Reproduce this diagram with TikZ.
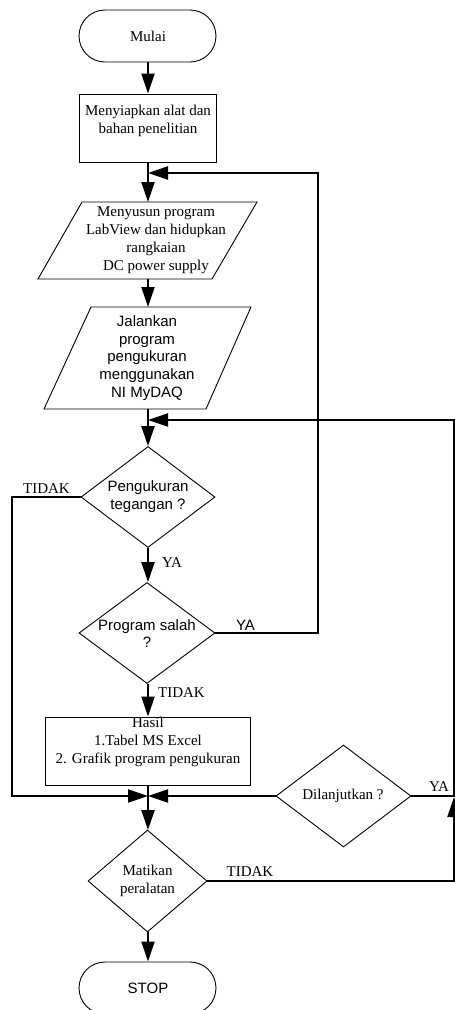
\documentclass[tikz,border=0pt]{standalone}
\usepackage{fontspec}
\setmainfont{Liberation Serif}
\newfontfamily\arialf{Liberation Sans}
\usetikzlibrary{arrows.meta,shapes.geometric,shapes.misc}
\tikzset{
  shapeline/.style={draw=black, line width=0.9pt},
  term/.style={shapeline, rounded rectangle, minimum width=137pt, minimum height=52pt, inner sep=0pt},
  procbox/.style={shapeline, rectangle, inner sep=0pt},
  dia/.style={shapeline, diamond, inner sep=0pt},
  txt/.style={inner sep=0pt, align=center, font=\fontsize{15pt}{18pt}\selectfont},
  stxt/.style={inner sep=0pt, align=center, font=\arialf\fontsize{15pt}{17.8pt}\selectfont},
  conn/.style={line width=2.2pt, -{Triangle[length=20pt,width=13pt]}},
}
\begin{document}
\begin{tikzpicture}[x=1pt,y=-1pt]
\clip (0,0) rectangle (455,1010);
% shapes
\node[term] (start) at (147.5,36) {};
\node[txt] (starttxt) at (148,36) {Mulai};
\node[procbox, minimum width=137pt, minimum height=68pt] (b1) at (147.5,128) {};
\node[txt] (b1txt) at (148,121) {Menyiapkan alat dan\\bahan penelitian};
\draw[shapeline] (82,202) -- (257,202) -- (212,279) -- (38,279) -- cycle;
\coordinate (p1n) at (148,202);
\coordinate (p1s) at (148,279);
\node[txt] (p1txt) at (156,240.5) {Menyusun program\\LabView dan hidupkan\\rangkaian\\DC power supply};
\draw[shapeline] (91,307) -- (251,307) -- (206,409) -- (44,409) -- cycle;
\coordinate (p2n) at (148,307);
\coordinate (p2s) at (148,409);
\node[stxt] (p2txt) at (147,358) {Jalankan\\program\\pengukuran\\menggunakan\\NI MyDAQ};
\node[dia, minimum width=134pt, minimum height=101pt] (d1) at (148,497) {};
\node[stxt] (d1txt) at (148,497) {Pengukuran\\tegangan ?};
\node[dia, minimum width=136pt, minimum height=101pt] (d2) at (147,633) {};
\node[stxt] (d2txt) at (147,633.5) {Program salah\\?};
\node[procbox, minimum width=205pt, minimum height=68pt] (hasil) at (147.5,751) {};
\node[txt] (hasiltxt) at (148,741.5) {Hasil\\1.Tabel MS Excel\\2. Grafik program pengukuran};
\node[dia, minimum width=135pt, minimum height=102pt] (d3) at (343.5,796) {};
\node[txt] (d3txt) at (343,796) {Dilanjutkan ?};
\node[dia, minimum width=119pt, minimum height=102pt] (d4) at (147.5,881) {};
\node[txt] (d4txt) at (147.5,881) {Matikan\\peralatan};
\node[term] (stop) at (147.5,988) {};
\node[stxt] (stoptxt) at (148,988) {STOP};
% junction coordinates
\coordinate (j1) at (148,173);
\coordinate (r1) at (318,173);
\coordinate (j2) at (148,420);
\coordinate (r2) at (454,420);
\coordinate (j3) at (148,796);
\coordinate (l1) at (12,796);
\coordinate (r3) at (454,797);
\coordinate (m1) at (148,785);
\coordinate (m2) at (148,830);
% connectors
\draw[conn] (start.south -| j1) -- (b1.north -| j1);
\draw[conn] (b1.south -| j1) -- (p1n);
\draw[conn] (p1s) -- (p2n);
\draw[conn] (p2s) -- (d1.north);
\draw[conn] (d1.south) -- (d2.north -| d1.south);
\draw[conn] (d2.south -| j1) -- (hasil.north -| j1);
\draw[conn] (m1) -- (m2);
\draw[conn] (d4.south -| j1) -- (stop.north -| j1);
\draw[conn] (d2.east) -| (r1) -- (j1);
\draw[conn] (d3.east) -| (r2) -- (j2);
\draw[conn] (d1.west) -| (l1) -- (j3);
\draw[conn] (d3.west) -- (j3);
\draw[conn] (d4.east) -| (r3);
% labels
\node[txt] (lbl1) at (46.5,489) {TIDAK};
\node[txt] (lbl2) at (172,563) {YA};
\node[stxt] (lbl3) at (245.5,625) {YA};
\node[txt] (lbl4) at (181.5,693) {TIDAK};
\node[txt] (lbl5) at (439,787) {YA};
\node[txt] (lbl6) at (250,872) {TIDAK};
\end{tikzpicture}
\end{document}
